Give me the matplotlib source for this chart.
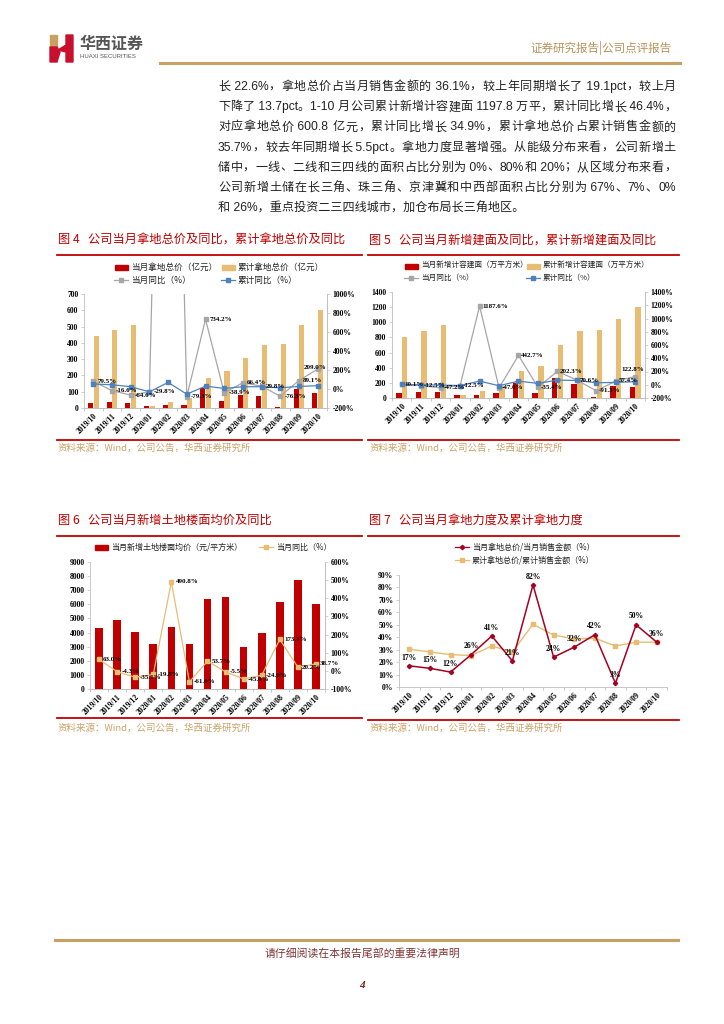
import matplotlib
matplotlib.use('Agg')
import matplotlib.pyplot as plt
from matplotlib.patches import Rectangle, Polygon
import numpy as np
import re

W, H = 724, 1024
CJK = 'Noto Sans CJK SC'
plt.rcParams['font.family'] = ['Liberation Serif', 'Noto Sans CJK SC']
plt.rcParams['font.weight'] = 'bold'

RED = '#C00000'
DRED = '#A50021'
GOLD = '#E8BC72'
GRAY = '#A6A6A6'
BLUE = '#4F81BD'
TAN = '#C9A268'
AXC = '#BFBFBF'

months = ['2019/10', '2019/11', '2019/12', '2020/01', '2020/02', '2020/03', '2020/04',
          '2020/05', '2020/06', '2020/07', '2020/08', '2020/09', '2020/10']

# fig 4: land cost (100m yuan)
land_month = [28, 37, 32, 14, 20, 20, 125, 43, 80, 75, 5, 118, 92]
land_cum = [445, 480, 512, 14, 37, 60, 185, 230, 310, 385, 390, 510, 600]
land_month_yoy = [79.5, -16.6, -64.6, -29.8, 8000, -79.3, 734.2, -38.9, 66.4, 29.8, -76.3, 89.1, 209.0]
land_cum_yoy = [52, 45, 24, -29.8, 69, -54, 30, 6, 24, 24, 13, 27, 34.9]

# fig 5: new GFA (10k sqm)
area_month = [65, 74, 78, 44, 44, 70, 196, 61, 267, 184, 13, 155, 150]
area_cum = [811, 890, 964, 44, 92, 157, 362, 425, 700, 886, 895, 1044, 1198]
area_month_yoy = [10.1, -12.5, -47.2, -12.5, 1187.6, -47.0, 442.7, -35.4, 202.3, 70.6, -91.3, 57.4, 122.8]
area_cum_yoy = [5, 0, -5, -12.5, 55, -15, 55, 20, 70, 65, 30, 35, 46.4]

# fig 6: floor price
price = [4340, 4860, 4050, 3160, 4380, 3160, 6410, 6550, 2990, 4000, 6130, 7730, 6030]
price_yoy = [63.0, -4.3, -35.1, -19.8, 490.8, -61.0, 53.7, -5.5, -45.0, -24.0, 173.1, 20.2, 38.7]

# fig 7: land cost / sales
ratio_month = [17, 15, 12, 26, 41, 21, 82, 24, 32, 42, 3, 50, 36]
ratio_cum = [30.4, 28.2, 26, 25.3, 33, 28, 50.5, 41.7, 38.7, 39.2, 33, 36, 36]

body = [
    '长 22.6%，拿地总价占当月销售金额的 36.1%，较上年同期增长了 19.1pct，较上月',
    '下降了 13.7pct。1-10 月公司累计新增计容建面 1197.8 万平，累计同比增长 46.4%，',
    '对应拿地总价 600.8 亿元，累计同比增长 34.9%，累计拿地总价占累计销售金额的',
    '35.7%，较去年同期增长 5.5pct。拿地力度显著增强。从能级分布来看，公司新增土',
    '储中，一线、二线和三四线的面积占比分别为 0%、80%和 20%；从区域分布来看，',
    '公司新增土储在长三角、珠三角、京津冀和中西部面积占比分别为 67%、7%、0%',
    '和 26%，重点投资二三四线城市，加仓布局长三角地区。',
]

fig = plt.figure(figsize=(7.24, 10.24), dpi=100)
renderer = fig.canvas.get_renderer()

# page layer in pixel coords
page = fig.add_axes([0, 0, 1, 1])
page.set_xlim(0, W)
page.set_ylim(H, 0)
page.axis('off')


def ptext(x, y, s, size, color='black', ha='left', fam=None, weight='normal', **kw):
    return page.text(x, y, s, fontsize=size, color=color, ha=ha, va='center',
                     family=fam or ['Liberation Sans', CJK], fontweight=weight, **kw)


def justified(x0, x1, y, s, size, color):
    # spread CJK characters / latin runs evenly between x0 and x1
    toks = re.findall(r'[A-Za-z0-9.%\- ]+|.', s)
    ws = []
    for t in toks:
        tx = ptext(0, y, t, size, color)
        ws.append(tx.get_window_extent(renderer).width)
        tx.remove()
    gap = max(0, (x1 - x0 - sum(ws)) / (len(toks) - 1))
    x = x0
    for t, w in zip(toks, ws):
        ptext(x, y, t, size, color)
        x += w + gap


# header
page.add_patch(Polygon([(50, 35), (57, 35), (57, 47), (50, 47)], color='#C9A063'))
page.add_patch(Polygon([(50, 47), (57, 47), (60, 52), (57, 62), (50, 62)], color='#C8102E'))
page.add_patch(Polygon([(66, 35), (73, 35), (73, 62), (66, 62), (66, 52), (58, 50), (66, 45)], color='#C8102E'))
ptext(80, 44, '华西证券', 11.5, '#555555', fam=CJK, weight='bold')
ptext(80, 57, 'HUAXI SECURITIES', 4.3, '#555555')
ptext(672, 48, '证券研究报告|公司点评报告', 8.3, '#B8925A', ha='right', fam=CJK)
page.plot([160, 680], [63, 63], color='#C9A063', lw=2.2)

for i, line in enumerate(body):
    if i < len(body) - 1:
        justified(218, 676, 87 + i * 20.2, line, 8.7, '#222222')
    else:
        ptext(218, 87 + i * 20.2, line, 8.7, '#222222')

# footer
page.plot([55, 678], [940, 940], color='#C9A063', lw=2.2)
ptext(362, 953, '请仔细阅读在本报告尾部的重要法律声明', 7.8, '#7F3535', ha='center', fam=CJK)
ptext(362, 985, '4', 8, '#7F2020', ha='center', fam='Liberation Serif', weight='bold', style='italic')


def frame(x0, x1, ytitle, yrule, ybot, ysrc, title):
    ptext(x0 + 1, ytitle, title, 8.8, RED, fam=CJK)
    page.plot([x0, x1], [yrule, yrule], color=RED, lw=1.3)
    page.plot([x0, x1], [ybot, ybot], color=RED, lw=1.3)
    ptext(x0 + 1, ysrc, '资料来源：Wind，公司公告，华西证券研究所', 6.8, TAN, fam=CJK)


frame(57, 362, 240, 255, 440, 448, '图 4   公司当月拿地总价及同比，累计拿地总价及同比')
frame(368, 679, 240, 255, 440, 448, '图 5   公司当月新增建面及同比，累计新增建面及同比')
frame(57, 362, 520, 536, 718, 728, '图 6   公司当月新增土地楼面均价及同比')
frame(368, 679, 520, 536, 720, 728, '图 7   公司当月拿地力度及累计拿地力度')


def leg_patch(x, y, color, label, size):
    page.add_patch(Rectangle((x, y - 2.5), 13, 5, color=color))
    ptext(x + 16, y, label, size, '#222222', fam=CJK)


def leg_line(x, y, color, marker, label, size, ms=3):
    page.plot([x, x + 14], [y, y], color=color, lw=0.9)
    page.plot([x + 7], [y], marker=marker, color=color, ms=ms)
    ptext(x + 17, y, label, size, '#222222', fam=CJK)


def add_ax(x0, y0, x1, y1):
    return fig.add_axes([x0 / W, 1 - y1 / H, (x1 - x0) / W, (y1 - y0) / H])


def style(ax):
    ax.spines['top'].set_visible(False)
    for s in ['left', 'right', 'bottom']:
        ax.spines[s].set_color(AXC)
        ax.spines[s].set_linewidth(0.6)
    ax.tick_params(labelsize=5.5, length=2, width=0.5, color=AXC, pad=2)
    ax.patch.set_alpha(0)


def xcats(ax):
    x = np.arange(len(months))
    ax.set_xlim(-0.5, len(months) - 0.5)
    ax.set_xticks(x)
    ax.set_xticklabels(months, rotation=45, ha='right', rotation_mode='anchor', fontsize=5.5)
    ax.tick_params(axis='x', length=0, pad=3)
    ax.set_xticks(np.arange(-0.5, len(months)), minor=True)
    ax.tick_params(axis='x', which='minor', length=2, color=AXC)


def pct_fmt(ax, ticks):
    ax.set_yticks(ticks)
    ax.set_yticklabels([f'{t}%' for t in ticks])


def labels(ax, vals, top, dx=3, last_center=False, last_up=0):
    for i, v in enumerate(vals):
        if v > top:
            continue
        if last_center and i == len(vals) - 1:
            ax.annotate(f'{v:.1f}%', (i, v), xytext=(-2, 1 + last_up), textcoords='offset points',
                        ha='center', va='center', fontsize=5)
        else:
            ax.annotate(f'{v:.1f}%', (i, v), xytext=(dx, 0), textcoords='offset points',
                        ha='left', va='center', fontsize=5)


x = np.arange(len(months))

# ---- fig 4
leg_patch(115, 267, RED, '当月拿地总价（亿元）', 6.2)
leg_patch(222, 267, GOLD, '累计拿地总价（亿元）', 6.2)
leg_line(114, 280, GRAY, 's', '当月同比（%）', 6.2)
leg_line(221, 280, BLUE, 's', '累计同比（%）', 6.2)
a4 = add_ax(84, 294, 327, 408)
style(a4)
a4.bar(x - 0.15, land_month, 0.27, color=RED)
a4.bar(x + 0.15, land_cum, 0.27, color=GOLD)
a4.set_ylim(0, 700)
a4.set_yticks(range(0, 701, 100))
xcats(a4)
b4 = a4.twinx()
style(b4)
b4.spines['left'].set_visible(False)
b4.plot(x, land_month_yoy, color=GRAY, lw=0.9, marker='s', ms=2.5)
b4.plot(x, land_cum_yoy, color=BLUE, lw=0.9, marker='s', ms=3)
b4.set_ylim(-200, 1000)
pct_fmt(b4, list(range(-200, 1001, 200)))
labels(b4, land_month_yoy, 1000, last_center=True)

# ---- fig 5
leg_patch(405, 266, RED, '当月新增计容建面（万平方米）', 5.5)
leg_patch(527, 266, GOLD, '累计新增计容建面（万平方米）', 5.5)
leg_line(404, 278, GRAY, 's', '当月同比（%）', 5.5)
leg_line(526, 278, BLUE, 's', '累计同比（%）', 5.5)
a5 = add_ax(392, 292, 645, 398)
style(a5)
a5.bar(x - 0.15, area_month, 0.28, color=RED)
a5.bar(x + 0.15, area_cum, 0.28, color=GOLD)
a5.set_ylim(0, 1400)
a5.set_yticks(range(0, 1401, 200))
xcats(a5)
b5 = a5.twinx()
style(b5)
b5.spines['left'].set_visible(False)
b5.plot(x, area_month_yoy, color=GRAY, lw=0.9, marker='s', ms=2.5)
b5.plot(x, area_cum_yoy, color=BLUE, lw=0.9, marker='s', ms=3)
b5.set_ylim(-200, 1400)
pct_fmt(b5, list(range(-200, 1401, 200)))
labels(b5, area_month_yoy, 1400, dx=2, last_center=True, last_up=4)

# ---- fig 6
leg_patch(95, 547, RED, '当月新增土地楼面均价（元/平方米）', 5.8)
leg_line(259, 547, GOLD, 's', '当月同比（%）', 5.8)
a6 = add_ax(90, 562, 325, 689)
style(a6)
a6.bar(x, price, 0.42, color=RED)
a6.set_ylim(0, 9000)
a6.set_yticks(range(0, 9001, 1000))
xcats(a6)
b6 = a6.twinx()
style(b6)
b6.spines['left'].set_visible(False)
b6.plot(x, price_yoy, color=GOLD, lw=0.9, marker='s', ms=3)
b6.set_ylim(-100, 600)
pct_fmt(b6, list(range(-100, 601, 100)))
labels(b6, price_yoy, 600)

# ---- fig 7
leg_line(455, 547, DRED, 'D', '当月拿地总价/当月销售金额（%）', 5.8, ms=2.2)
leg_line(455, 560, GOLD, 's', '累计拿地总价/累计销售金额（%）', 5.8)
a7 = add_ax(399, 575, 667, 687)
style(a7)
a7.spines['right'].set_visible(False)
a7.plot(x, ratio_cum, color=GOLD, lw=1.0, marker='s', ms=3)
a7.plot(x, ratio_month, color=DRED, lw=1.1, marker='D', ms=2.2)
a7.set_ylim(0, 90)
pct_fmt(a7, list(range(0, 91, 10)))
xcats(a7)
for i, v in enumerate(ratio_month):
    a7.annotate(f'{v}%', (i, v), xytext=(0, 6), textcoords='offset points',
                ha='center', va='center', fontsize=5.5)

fig.savefig('out.png', dpi=100)
